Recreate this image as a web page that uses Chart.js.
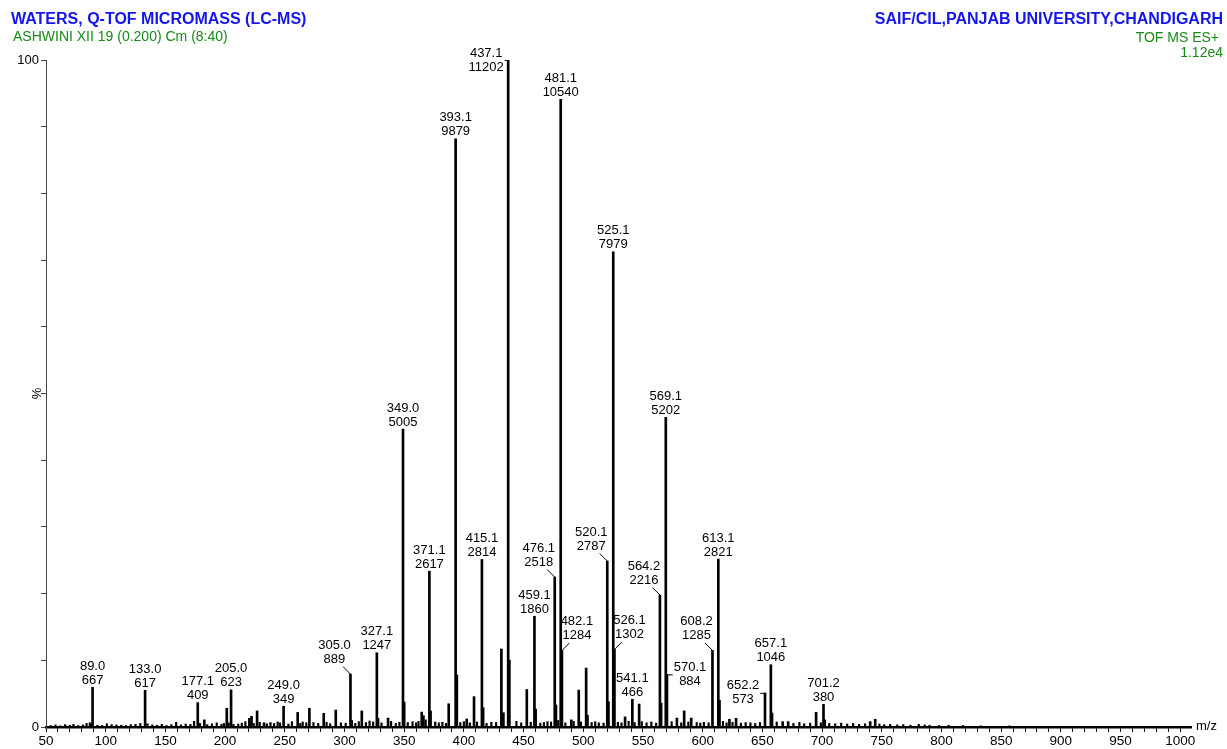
<!DOCTYPE html>
<html>
<head>
<meta charset="utf-8">
<script src="https://cdn.jsdelivr.net/npm/chart.js@4"></script>
<style>
  html, body { margin: 0; padding: 0; background: #fff; }
  canvas { display: block; }
</style>
</head>
<body>
<canvas id="spectrum" width="1227" height="749"></canvas>
<script>
// labelled peaks (m/z, raw intensity)
const labelMz = [89.0, 133.0, 177.1, 205.0, 249.0, 305.0, 327.1, 349.0, 371.1, 393.1,
  415.1, 437.1, 459.1, 476.1, 481.1, 482.1, 520.1, 525.1, 526.1, 541.1,
  564.2, 569.1, 570.1, 608.2, 613.1, 652.2, 657.1, 701.2];
const labelInt = [667, 617, 409, 623, 349, 889, 1247, 5005, 2617, 9879,
  2814, 11202, 1860, 2518, 10540, 1284, 2787, 7979, 1302, 466,
  2216, 5202, 884, 1285, 2821, 573, 1046, 380];

// unlabelled peaks
const minorMz = [86.9, 182.6, 201.4, 220.3, 222.1, 226.8, 232.6, 260.8, 270.6, 282.6,
  292.7, 306.0, 314.5, 328.1, 336.5, 350.0, 364.7, 366.1, 372.1, 387.3,
  394.1, 402.4, 408.5, 416.1, 431.4, 433.1, 438.1, 452.7, 460.1, 477.1,
  490.0, 496.2, 502.4, 503.5, 521.1, 535.0, 546.8, 565.2, 578.4, 584.5,
  590.4, 614.1, 622.4, 628.0, 658.1, 667.0, 671.6, 695.0, 702.2, 740.3,
  744.5];
const minorInt = [70, 120, 315, 145, 180, 270, 70, 245, 315, 230,
  285, 110, 270, 146, 150, 420, 250, 190, 270, 390,
  873, 135, 510, 325, 1310, 240, 1125, 630, 300, 370,
  120, 620, 990, 200, 425, 170, 385, 400, 150, 270,
  150, 450, 130, 145, 235, 90, 90, 245, 120, 90,
  130];

// baseline noise
const noiseMz = [54, 58, 62, 66, 70, 73, 77, 81, 84, 88,
  93, 97, 101, 105, 109, 113, 117, 121, 125, 129,
  135, 139, 143, 147, 151, 155, 159, 163, 167, 171,
  174, 179, 185, 189, 193, 197, 199, 203, 207, 211,
  214, 217, 224, 229, 235, 238, 241, 244, 246, 253,
  256, 263, 265, 268, 274, 278, 285, 288, 297, 301,
  309, 312, 318, 321, 324, 331, 339, 343, 346, 353,
  357, 360, 362, 368, 376, 379, 382, 385, 397, 400,
  405, 411, 419, 423, 427, 444, 448, 456, 464, 467,
  470, 473, 479, 485, 492, 498, 507, 510, 513, 517,
  529, 532, 538, 543, 549, 553, 557, 561, 574, 582,
  588, 595, 598, 601, 605, 617, 620, 625, 632, 636,
  640, 644, 648, 662, 676, 681, 685, 690, 699, 706,
  711, 716, 721, 726, 731, 736, 748, 752, 757, 763,
  768, 774, 781, 786, 790, 798, 806, 818, 833, 857];
const noiseInt = [25, 35, 20, 40, 30, 45, 25, 35, 60, 50,
  30, 25, 55, 40, 35, 30, 25, 40, 45, 60,
  55, 35, 30, 45, 25, 40, 80, 35, 50, 45,
  95, 60, 40, 55, 70, 45, 60, 70, 45, 50,
  65, 90, 60, 80, 55, 75, 60, 85, 70, 50,
  90, 60, 85, 70, 75, 60, 80, 55, 70, 65,
  60, 90, 75, 100, 85, 70, 95, 60, 80, 75,
  90, 70, 95, 120, 85, 70, 80, 60, 75, 90,
  70, 85, 60, 80, 75, 95, 70, 80, 65, 75,
  90, 85, 110, 70, 95, 85, 75, 90, 70, 65,
  80, 70, 95, 75, 90, 70, 85, 65, 90, 70,
  85, 75, 65, 80, 70, 95, 70, 80, 65, 75,
  70, 60, 75, 85, 60, 80, 55, 65, 70, 60,
  55, 65, 50, 60, 45, 55, 50, 40, 45, 35,
  40, 30, 45, 35, 30, 25, 30, 25, 20, 20];

const xTickValues = [50, 100, 150, 200, 250, 300, 350, 400, 450, 500,
  550, 600, 650, 700, 750, 800, 850, 900, 950, 1000];
const yTickLabels = [0, 100];

// where each peak label sits relative to its peak
const labelSide = ['c', 'c', 'c', 'c', 'c', 'ul', 'c', 'c', 'c', 'c',
  'c', 'l', 'c', 'ul', 'c', 'ur', 'ul', 'c', 'ur', 'c',
  'ul', 'c', 'r', 'ul', 'c', 'l', 'c', 'c'];

const basePeak = Math.max(...labelInt);
const toPoints = (mz, it) => mz.map((m, i) => ({ x: m, y: it[i] / basePeak * 100 }));

const FONT = '"Liberation Sans", Arial, sans-serif';

const annotations = {
  id: 'annotations',
  afterDraw(chart) {
    const { ctx, scales: { x, y } } = chart;
    ctx.save();

    // header
    ctx.textBaseline = 'middle';
    ctx.font = 'bold 16px ' + FONT;
    ctx.fillStyle = '#1414f0';
    ctx.textAlign = 'left';
    ctx.fillText('WATERS, Q-TOF MICROMASS (LC-MS)', 11, 20);
    ctx.textAlign = 'right';
    ctx.fillText('SAIF/CIL,PANJAB UNIVERSITY,CHANDIGARH', 1223, 20);
    ctx.font = '14px ' + FONT;
    ctx.fillStyle = '#178a17';
    ctx.textAlign = 'left';
    ctx.fillText('ASHWINI XII 19 (0.200) Cm (8:40)', 13, 37);
    ctx.textAlign = 'right';
    ctx.fillText('TOF MS ES+', 1219, 38);
    ctx.fillText('1.12e4', 1223, 53);

    // axis captions
    ctx.fillStyle = '#000';
    ctx.font = '13px ' + FONT;
    ctx.textAlign = 'left';
    ctx.fillText('m/z', 1196, y.getPixelForValue(0) - 1);
    ctx.save();
    ctx.translate(37, y.getPixelForValue(50));
    ctx.rotate(-Math.PI / 2);
    ctx.textAlign = 'center';
    ctx.fillText('%', 0, 0);
    ctx.restore();

    // peak labels
    ctx.font = '13px ' + FONT;
    ctx.textAlign = 'center';
    ctx.strokeStyle = '#000';
    ctx.lineWidth = 1;
    labelMz.forEach((mz, i) => {
      const px = x.getPixelForValue(mz);
      const py = y.getPixelForValue(labelInt[i] / basePeak * 100);
      const top = mz.toFixed(1);
      const bottom = String(labelInt[i]);
      const halfW = Math.max(ctx.measureText(top).width, ctx.measureText(bottom).width) / 2;
      let tx = px, ty1 = py - 21, ty2 = py - 7;
      let leader = null;
      switch (labelSide[i]) {
        case 'ul':
          tx = px - 16; ty1 = py - 29; ty2 = py - 15;
          leader = [px, py, px - 7.5, py - 7.5];
          break;
        case 'ur':
          tx = px + 15; ty1 = py - 29; ty2 = py - 15;
          leader = [px, py, px + 7.5, py - 7.5];
          break;
        case 'l':
          tx = px - 22; ty1 = py - 7; ty2 = py + 7;
          leader = [px, py + 0.5, tx + halfW + 1, py + 0.5];
          break;
        case 'r':
          tx = px + 23; ty1 = py - 7; ty2 = py + 7;
          leader = [px, py + 0.5, tx - halfW - 1, py + 0.5];
          break;
      }
      if (leader && Math.abs(leader[2] - leader[0]) > 1) {
        ctx.beginPath();
        ctx.moveTo(leader[0], leader[1]);
        ctx.lineTo(leader[2], leader[3]);
        ctx.stroke();
      }
      ctx.fillText(top, tx, ty1);
      ctx.fillText(bottom, tx, ty2);
    });
    ctx.restore();
  }
};

new Chart(document.getElementById('spectrum').getContext('2d'), {
  type: 'bar',
  data: {
    datasets: [
      { data: toPoints(noiseMz, noiseInt), backgroundColor: '#000', barThickness: 1.5 },
      { data: toPoints(minorMz, minorInt), backgroundColor: '#000', barThickness: 2 },
      { data: toPoints(labelMz, labelInt), backgroundColor: '#000', barThickness: 2 }
    ]
  },
  options: {
    responsive: false,
    animation: false,
    datasets: { bar: { grouped: false } },
    layout: { padding: { top: 60, right: 36, left: 0, bottom: 0 } },
    plugins: { legend: { display: false }, tooltip: { enabled: false } },
    scales: {
      x: {
        type: 'linear',
        min: 50,
        max: 1009,
        offset: false,
        grid: { drawOnChartArea: false, tickLength: 5, color: '#000', offset: false },
        border: { color: '#000', width: 2.5 },
        afterBuildTicks(scale) {
          const t = [];
          for (let v = 50; v <= 1000; v += 10) t.push({ value: v });
          scale.ticks = t;
        },
        ticks: {
          autoSkip: false,
          maxRotation: 0,
          padding: 1,
          color: '#000',
          font: { family: FONT, size: 13.5 },
          callback: v => xTickValues.includes(v) ? String(v) : ''
        },
        afterFit(scale) { scale.height = 22; }
      },
      y: {
        min: 0,
        max: 100,
        grid: { drawOnChartArea: false, tickLength: 5, color: '#444' },
        border: { color: '#444', width: 1 },
        ticks: {
          stepSize: 10,
          autoSkip: false,
          padding: 2,
          color: '#000',
          font: { family: FONT, size: 13 },
          callback: v => yTickLabels.includes(v) ? String(v) : ''
        },
        afterFit(scale) { scale.width = 46; }
      }
    }
  },
  plugins: [annotations]
});
</script>
</body>
</html>
